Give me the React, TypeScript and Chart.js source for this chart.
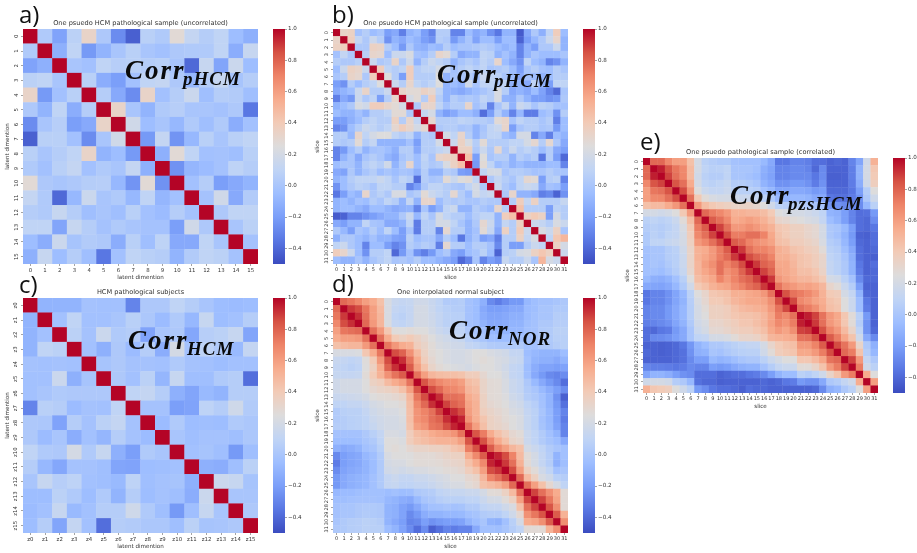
import React, { useEffect, useRef } from "react";
import { Chart, registerables } from "chart.js";
Chart.register(...registerables);

const dims16 = ["0","1","2","3","4","5","6","7","8","9","10","11","12","13","14","15"];
const zLabels = ["z0","z1","z2","z3","z4","z5","z6","z7","z8","z9","z10","z11","z12","z13","z14","z15"];
const slices32 = ["0","1","2","3","4","5","6","7","8","9","10","11","12","13","14","15","16","17","18","19","20","21","22","23","24","25","26","27","28","29","30","31"];
const barTicks = [-0.4,-0.2,0,0.2,0.4,0.6,0.8,1];
const COOLWARM = ["#3b4cc0","#5977e3","#7b9ff9","#9ebeff","#c0d4f5","#dddcdc","#f2cbb7","#f7ac8e","#ee8468","#d65244","#b40426"];

// upper triangles (row i lists columns i+1 .. n-1; the diagonal is 1)
const corrA = [
[.03,-.18,.08,.33,.02,-.27,-.43,.07,.03,.28,.12,.05,.1,-.05,-.12],
[-.12,.1,-.22,-.1,0,.07,0,-.03,.02,.03,.03,.1,-.13,.13],
[0,-.03,.1,.06,.07,.05,.07,0,-.4,.13,-.17,.15,-.05],
[.07,-.13,-.2,-.03,.1,.12,.02,-.08,.05,.13,-.01,.05],
[.05,-.15,-.27,.33,-.03,.05,.15,-.04,.05,.04,-.04],
[.33,0,-.1,.03,.06,0,0,-.02,.02,-.35],
[.18,-.05,0,-.08,.03,-.04,.03,-.13,-.03],
[-.22,.12,-.24,-.08,.07,0,.07,.1],
[-.12,.28,.1,-.03,-.02,-.04,.07],
[-.25,-.09,-.06,-.02,.09,.05],
[-.03,.05,-.2,-.15,-.1],
[-.02,.18,-.15,.04],
[.02,.1,.1],
[0,.08],
[-.02],
];
const corrC = [
[-.1,-.1,-.1,-.02,-.03,-.03,-.3,.02,.02,.1,.05,0,-.05,-.06,-.05],
[-.03,.1,-.03,-.03,0,.07,.01,-.06,.03,-.08,.13,-.05,-.03,.05],
[.08,-.02,.15,.03,.05,-.18,0,.02,-.16,.06,.08,.13,-.17],
[-.03,-.12,.02,-.06,.05,-.13,.2,-.02,.09,.03,-.07,.12],
[-.01,.02,-.02,-.02,-.03,.03,-.02,-.03,-.05,-.03,-.03],
[.02,-.03,.08,-.09,.13,-.04,-.04,.03,.05,-.38],
[.1,.12,.05,-.12,-.17,-.07,-.1,.05,.05],
[-.02,-.02,-.2,-.18,.09,.05,.17,.04],
[-.06,.03,-.05,-.04,-.05,.03,.01],
[0,-.04,-.02,-.02,-.04,.01],
[-.03,-.01,-.04,-.22,-.04],
[-.12,-.13,-.04,.08],
[.15,.13,-.01],
[0,0],
[.02],
];
const corrB = [
[.33,.35,-.02,.05,-.05,0,-.2,-.15,-.32,-.1,-.05,-.2,-.3,.05,.05,-.3,-.3,-.05,-.15,-.1,-.25,-.35,-.1,-.1,-.45,-.15,.02,-.12,.1,.38,-.05],
[.37,.12,.02,.15,.05,-.25,-.1,-.15,-.05,-.1,-.2,-.25,.05,.02,-.22,-.1,0,-.18,-.05,-.05,-.2,-.05,-.05,-.42,-.2,-.08,.02,.15,.32,-.1],
[.02,.02,.35,.33,.05,-.05,-.22,.02,-.1,-.12,-.05,-.08,.05,-.05,0,0,.02,.05,.02,-.05,-.1,-.05,-.3,-.1,-.2,.02,.02,.15,-.1],
[.07,.32,.3,-.05,.15,.15,.22,-.02,-.05,.05,.32,.28,.05,-.15,-.1,-.1,.1,.08,-.1,-.02,-.1,-.3,-.1,0,-.05,-.05,-.05,0],
[.15,.02,.05,.33,.02,.18,-.1,.05,.15,.1,.05,-.1,0,.05,0,.1,.05,.32,-.05,-.15,-.25,.1,-.05,-.1,-.3,-.25,-.1],
[.38,.1,.05,.1,.38,.05,.1,.1,.2,.12,-.02,.05,.1,.05,.1,0,.02,.05,-.05,-.2,0,.05,-.02,-.05,.05,0],
[.25,.05,-.2,.38,.05,.05,.05,.25,-.1,0,0,.05,-.05,.15,.1,.08,0,-.05,-.15,-.02,-.05,-.1,-.05,.05,.05],
[.15,.05,.32,.1,.05,.1,.25,-.1,-.05,-.1,.18,0,.1,.1,.02,.1,-.1,-.1,-.15,.1,-.1,-.2,.1,.1],
[.32,.28,.28,.35,.3,.1,-.1,-.12,-.15,-.1,-.05,0,.05,.22,.05,-.15,-.1,-.15,-.05,-.18,-.3,-.4,0],
[.2,.28,.05,.38,.05,-.1,.05,0,.03,0,.1,.05,.22,-.1,-.12,.02,-.1,-.2,-.2,-.25,-.22,.02],
[.02,.32,.32,.1,-.02,.05,.05,.32,-.02,.05,-.3,0,.12,-.1,.15,.1,0,.08,.05,-.02,-.02],
[.12,.2,-.1,-.2,-.15,-.05,-.05,-.12,-.38,-.2,.05,-.1,-.3,-.08,-.33,-.33,-.05,0,-.25,.05],
[.3,.05,.05,.05,.1,.08,.05,.05,.02,.28,.32,0,.1,.05,.05,0,.05,-.32,-.05],
[.02,.05,.05,0,.02,-.1,0,.1,.15,.32,-.2,0,.05,.05,0,.02,-.22,-.05],
[.2,.1,.32,.05,-.1,.02,.1,.1,-.05,-.1,.2,.2,-.3,-.15,-.32,-.05,-.1],
[.15,.35,.22,.05,.28,.05,.05,.05,.1,.1,.2,.3,.05,.3,.02,-.15],
[.35,.35,.02,.15,.02,.3,.02,.15,.05,.1,.05,-.05,.05,-.15,-.2],
[.45,-.2,.25,0,.05,.05,-.1,.05,0,.05,-.35,.05,-.2,-.4],
[-.22,.28,.1,-.05,0,-.1,-.05,-.1,-.1,-.1,-.05,-.05,-.3],
[.1,.2,.2,0,.05,.05,.02,-.02,0,.05,0,0],
[.02,.12,.05,0,.1,.3,.28,-.2,.05,.08,-.3],
[.15,.02,-.05,.1,.15,.12,-.15,-.02,-.05,-.2],
[.02,.32,-.1,-.1,-.15,-.32,-.28,-.42,-.25],
[.05,.38,.12,.35,.05,.05,.05,.13],
[.45,.05,.05,.05,-.2,.08,.05],
[.35,.4,.35,-.2,.2,.05],
[.15,.12,.05,.22,.15],
[.22,.15,.35,0],
[.1,.42,.5],
[.35,.2],
[.15],
];
const corrD = [
[.78,.74,.68,.6,.55,.45,.22,.14,.12,.13,.18,.18,.14,.1,.04,.04,.05,-.02,-.05,-.12,-.28,-.33,-.27,-.22,-.22,-.08,-.04,-.02,-.02,0,.02],
[.9,.86,.74,.6,.48,.22,.12,.1,.12,.2,.2,.15,.1,.07,.05,.05,-.02,-.05,-.15,-.2,-.2,-.18,-.15,-.15,-.06,-.04,0,0,.03,.03],
[.92,.76,.6,.5,.22,.1,.08,.12,.2,.2,.16,.12,.08,.07,.07,-.02,-.05,-.13,-.17,-.17,-.15,-.12,-.12,-.06,-.03,0,0,.05,.05],
[.78,.62,.5,.23,.12,.1,.13,.2,.2,.17,.12,.08,.08,.08,-.02,-.04,-.1,-.15,-.15,-.13,-.1,-.1,-.04,-.02,.02,.02,.06,.06],
[.76,.62,.42,.26,.25,.27,.25,.25,.2,.15,.12,.1,.1,.02,0,-.03,-.08,-.1,-.1,-.08,-.08,-.03,-.02,.03,.04,.08,.08],
[.76,.55,.4,.36,.4,.35,.3,.25,.2,.17,.15,.13,.07,.03,0,-.04,-.05,-.05,-.03,-.03,-.03,-.02,.03,.03,.07,.07],
[.74,.63,.55,.52,.38,.33,.27,.22,.2,.18,.17,.12,.1,.07,.04,.03,.03,.03,.03,-.03,-.03,.02,.02,.05,.07],
[.86,.8,.65,.48,.35,.28,.25,.22,.2,.2,.22,.25,.25,.22,.2,.18,.12,.12,-.05,-.08,-.1,-.1,-.1,-.05],
[.92,.75,.55,.38,.3,.25,.22,.2,.2,.22,.25,.27,.25,.22,.2,.15,.13,-.03,-.1,-.12,-.12,-.15,-.1],
[.82,.6,.45,.33,.28,.25,.23,.22,.2,.23,.25,.25,.22,.18,.12,.1,-.05,-.13,-.18,-.18,-.2,-.18],
[.75,.6,.5,.47,.46,.46,.44,.38,.38,.3,.25,.25,.2,.12,.1,-.04,-.15,-.22,-.28,-.3,-.27],
[.84,.74,.68,.64,.64,.6,.47,.44,.33,.28,.27,.22,.15,.12,.02,-.07,-.15,-.22,-.28,-.38],
[.86,.78,.7,.68,.64,.5,.47,.33,.28,.27,.22,.15,.12,.04,0,-.07,-.13,-.2,-.27],
[.92,.76,.76,.74,.55,.5,.35,.28,.27,.24,.17,.14,.05,.02,-.03,-.1,-.25,-.43],
[.88,.8,.76,.58,.52,.35,.3,.28,.25,.2,.17,.1,.06,-.02,-.1,-.22,-.37],
[.92,.86,.6,.52,.37,.33,.3,.27,.22,.2,.12,.08,0,-.08,-.2,-.3],
[.94,.64,.53,.43,.35,.32,.28,.25,.22,.13,.08,-.02,-.08,-.2,-.33],
[.75,.6,.46,.35,.33,.3,.25,.22,.13,.08,-.01,-.07,-.18,-.3],
[.84,.72,.55,.45,.38,.3,.27,.15,.1,.04,-.03,-.1,-.3],
[.85,.68,.55,.45,.33,.3,.15,.1,.04,-.01,-.05,-.15],
[.82,.68,.6,.5,.45,.2,.15,.1,.04,0,-.03],
[.94,.86,.7,.48,.27,.2,.12,.05,-.1,-.03],
[.9,.76,.52,.28,.2,.12,.05,-.12,-.04],
[.86,.6,.35,.27,.17,.1,-.03,0],
[.78,.48,.36,.22,.17,.07,.05],
[.76,.6,.45,.3,.2,.1],
[.88,.76,.65,.55,.28],
[.88,.74,.58,.28],
[.84,.66,.28],
[.82,.52],
[.66],
];
const corrE = [
[.78,.78,.68,.6,.6,.45,.2,.08,.05,.03,.03,-.02,-.03,-.03,-.03,-.07,-.15,-.35,-.35,-.3,-.3,-.32,-.38,-.38,-.42,-.4,-.42,-.3,-.17,.18,.52],
[.95,.84,.74,.68,.48,.2,.1,.07,.08,.1,0,0,0,-.03,-.12,-.17,-.3,-.3,-.28,-.28,-.3,-.4,-.28,-.42,-.42,-.42,-.32,-.1,.2,.42],
[.88,.76,.69,.48,.18,.08,.05,.05,.1,0,0,-.02,-.05,-.13,-.18,-.3,-.3,-.28,-.28,-.28,-.35,-.27,-.43,-.43,-.42,-.32,-.1,.2,.4],
[.84,.76,.55,.2,.1,.08,.1,.13,.05,.05,.03,0,-.1,-.15,-.25,-.25,-.22,-.22,-.25,-.33,-.25,-.42,-.42,-.42,-.33,-.13,.18,.37],
[.86,.63,.25,.15,.12,.12,.15,.08,.07,.07,.05,-.03,-.08,-.17,-.17,-.15,-.15,-.17,-.22,-.2,-.4,-.4,-.4,-.35,-.2,.05,.25],
[.76,.41,.27,.22,.2,.2,.17,.15,.15,.13,.07,.03,-.08,-.1,-.08,-.08,-.1,-.15,-.15,-.35,-.37,-.37,-.33,-.25,.02,.17],
[.62,.47,.41,.38,.36,.33,.33,.33,.31,.25,.18,.08,.06,.05,.05,.03,0,0,-.23,-.25,-.28,-.28,-.27,-.08,.08],
[.78,.72,.68,.62,.52,.52,.5,.5,.47,.4,.25,.22,.2,.2,.18,.15,.1,-.1,-.12,-.2,-.3,-.38,-.37,-.22],
[.82,.76,.68,.55,.57,.6,.57,.52,.45,.32,.3,.27,.25,.22,.2,.12,-.05,-.1,-.2,-.3,-.38,-.4,-.27],
[.88,.76,.62,.62,.66,.62,.57,.52,.42,.4,.36,.36,.32,.29,.2,.02,0,-.07,-.2,-.38,-.4,-.35],
[.86,.72,.72,.76,.76,.7,.56,.44,.4,.36,.36,.32,.29,.2,.02,-.02,-.1,-.22,-.42,-.43,-.38],
[.82,.78,.7,.65,.62,.58,.46,.44,.38,.38,.35,.32,.22,.05,.02,-.08,-.2,-.4,-.42,-.38],
[.9,.76,.7,.7,.65,.53,.5,.44,.42,.38,.36,.27,.08,.05,-.04,-.15,-.38,-.42,-.4],
[.86,.8,.76,.7,.53,.53,.48,.44,.42,.38,.32,.1,.07,0,-.12,-.38,-.42,-.43],
[.9,.8,.76,.56,.56,.5,.44,.42,.38,.32,.12,.08,.02,-.1,-.35,-.42,-.38],
[.88,.8,.58,.56,.52,.46,.46,.42,.34,.12,.08,.02,-.1,-.33,-.42,-.4],
[.9,.63,.58,.54,.5,.5,.46,.4,.2,.18,.08,-.02,-.28,-.4,-.4],
[.75,.66,.62,.58,.59,.56,.5,.32,.27,.15,.05,-.2,-.42,-.42],
[.85,.75,.72,.68,.62,.52,.4,.38,.2,.12,-.1,-.4,-.42],
[.87,.68,.64,.58,.54,.44,.41,.25,.15,-.05,-.35,-.42],
[.76,.72,.66,.56,.46,.43,.25,.15,-.05,-.33,-.42],
[.95,.88,.75,.62,.56,.42,.27,.08,-.22,-.42],
[.9,.76,.62,.56,.42,.27,.05,-.25,-.42],
[.85,.7,.62,.48,.33,.1,-.25,-.4],
[.82,.72,.57,.44,.17,-.15,-.28],
[.86,.75,.62,.33,.02,-.12],
[.78,.72,.44,.05,-.08],
[.88,.62,.12,.02],
[.72,.18,.08],
[.55,.25],
[.6],
];

const SIDE = 235, LEFT = 23, TOP = 14, BOTTOM = 16, RIGHT = 8, CB_W = 12, CB_GAP = 15, CB_LABEL = 22;
const INK = "#333";
const FONT = "'DejaVu Sans'";

function hexRgb(h: string) {
  return [1, 3, 5].map((i) => parseInt(h.slice(i, i + 2), 16));
}
function cellColor(v: number) {
  const t = Math.min(1, Math.max(0, (v + 0.5) / 1.5)) * (COOLWARM.length - 1);
  const i = Math.min(COOLWARM.length - 2, Math.floor(t));
  const a = hexRgb(COOLWARM[i]), b = hexRgb(COOLWARM[i + 1]);
  const c = a.map((x, k) => Math.round(x + (b[k] - x) * (t - i)));
  return `rgb(${c[0]},${c[1]},${c[2]})`;
}
function cellsOf(upper: number[][], labels: string[]) {
  const pts: { x: string; y: string; v: number }[] = [];
  labels.forEach((ly, r) =>
    labels.forEach((lx, c) => {
      const v = r === c ? 1 : r < c ? upper[r][c - r - 1] : upper[c][r - c - 1];
      pts.push({ x: lx, y: ly, v: v ?? 0 });
    })
  );
  return pts;
}

const panels = [
  { key: "a", x: 23, y: 29, m: corrA, labels: dims16, title: "One psuedo HCM pathological sample (uncorrelated)", xt: "latent dimention", yt: "latent dimention" },
  { key: "b", x: 333, y: 29, m: corrB, labels: slices32, title: "One psuedo HCM pathological sample (uncorrelated)", xt: "slice", yt: "slice" },
  { key: "c", x: 23, y: 298, m: corrC, labels: zLabels, title: "HCM pathological subjects", xt: "latent dimention", yt: "latent dimention" },
  { key: "d", x: 333, y: 298, m: corrD, labels: slices32, title: "One interpolated normal subject", xt: "slice", yt: "slice" },
  { key: "e", x: 643, y: 158, m: corrE, labels: slices32, title: "One psuedo pathological sample (correlated)", xt: "slice", yt: "slice" },
];

const letters = [
  { t: "a)", x: 19, y: 23 },
  { t: "b)", x: 332, y: 23 },
  { t: "c)", x: 19, y: 293 },
  { t: "d)", x: 332, y: 292 },
  { t: "e)", x: 640, y: 150 },
];
const formulas = [
  { sub: "pHCM", x: 125, y: 79, sx: 183, sy: 85 },
  { sub: "pHCM", x: 437, y: 83, sx: 494, sy: 87 },
  { sub: "HCM", x: 128, y: 349, sx: 187, sy: 355 },
  { sub: "NOR", x: 449, y: 339, sx: 508, sy: 345 },
  { sub: "pzsHCM", x: 730, y: 204, sx: 788, sy: 210 },
];

function heatmap(cv: HTMLCanvasElement, p: (typeof panels)[number]) {
  const n = p.labels.length;
  const pts = cellsOf(p.m, p.labels);
  const tick = { font: { family: FONT, size: n > 16 ? 5 : 5.4 }, color: INK, autoSkip: false, padding: 1 };
  const grid = { drawOnChartArea: false, drawTicks: true, tickLength: 2, color: "#666", lineWidth: 0.6 };
  return new Chart(cv, {
    type: "scatter",
    data: {
      datasets: [
        {
          data: pts as any,
          pointStyle: "rect",
          pointRadius: (SIDE / n + 0.4) / Math.SQRT2,
          pointBorderWidth: 0,
          pointHoverRadius: (SIDE / n + 0.4) / Math.SQRT2,
          pointBackgroundColor: pts.map((d) => cellColor(d.v)),
          clip: 0,
        } as any,
      ],
    },
    options: {
      responsive: false,
      animation: false,
      events: [],
      layout: { autoPadding: false, padding: { right: RIGHT } },
      plugins: {
        legend: { display: false },
        tooltip: { enabled: false },
        title: {
          display: true,
          text: p.title,
          fullSize: false,
          font: { family: FONT, size: 6.6, weight: "normal", lineHeight: 1 },
          color: INK,
          padding: { top: 4.7, bottom: 2.7 },
        },
      },
      scales: {
        x: {
          type: "category",
          labels: p.labels,
          offset: true,
          grid,
          border: { display: false },
          ticks: { ...tick, maxRotation: 0, minRotation: 0 },
          title: { display: true, text: p.xt, font: { family: FONT, size: 5.6, lineHeight: 1 }, color: INK, padding: 0 },
          afterFit: (s: any) => { s.height = BOTTOM; },
        },
        y: {
          type: "category",
          labels: p.labels,
          offset: true,
          grid,
          border: { display: false },
          ticks: { ...tick, minRotation: 90, maxRotation: 90, crossAlign: "center" },
          title: { display: true, text: p.yt, font: { family: FONT, size: 5.6, lineHeight: 1 }, color: INK, padding: { top: 5, bottom: 0 } },
          afterFit: (s: any) => { s.width = LEFT; },
        },
      } as any,
    },
  });
}

function colorbar(cv: HTMLCanvasElement) {
  return new Chart(cv, {
    type: "bar",
    data: {
      labels: [""],
      datasets: [
        {
          data: [[-0.5, 1]] as any,
          barPercentage: 1,
          categoryPercentage: 1,
          backgroundColor: (ctx: any) => {
            const area = ctx.chart.chartArea;
            if (!area) return COOLWARM[5];
            const g = ctx.chart.ctx.createLinearGradient(0, area.bottom, 0, area.top);
            COOLWARM.forEach((c, i) => g.addColorStop(i / (COOLWARM.length - 1), c));
            return g;
          },
        },
      ],
    },
    options: {
      responsive: false,
      animation: false,
      events: [],
      layout: { autoPadding: false, padding: { top: 6, bottom: 6 } },
      plugins: { legend: { display: false }, tooltip: { enabled: false } },
      scales: {
        x: { display: false },
        y: {
          position: "right",
          min: -0.5,
          max: 1,
          border: { display: false },
          grid: { drawOnChartArea: false, drawTicks: true, tickLength: 2, color: "#666", lineWidth: 0.6 },
          afterBuildTicks: (s: any) => { s.ticks = barTicks.map((value) => ({ value })); },
          afterFit: (s: any) => { s.width = CB_LABEL; },
          ticks: {
            autoSkip: false,
            padding: 1,
            font: { family: FONT, size: 5.6 },
            color: INK,
            callback: (v: any) => (v < 0 ? "\u2212" + Math.abs(v).toFixed(1) : Number(v).toFixed(1)),
          },
        },
      } as any,
    },
  });
}

export default function App() {
  const maps = useRef<(HTMLCanvasElement | null)[]>([]);
  const bars = useRef<(HTMLCanvasElement | null)[]>([]);
  useEffect(() => {
    const charts = panels.flatMap((p, i) => [heatmap(maps.current[i]!, p), colorbar(bars.current[i]!)]);
    return () => charts.forEach((c) => c.destroy());
  }, []);
  return (
    <div style={{ position: "fixed", left: 0, top: 0, width: 917, height: 553, overflow: "hidden", background: "#fff" }}>
      <div style={{ position: "absolute", inset: 0, filter: "blur(0.5px)" }}>
        {panels.map((p, i) => (
          <React.Fragment key={p.key}>
            <canvas
              ref={(el) => { maps.current[i] = el; }}
              width={LEFT + SIDE + RIGHT}
              height={TOP + SIDE + BOTTOM}
              style={{ position: "absolute", left: p.x - LEFT, top: p.y - TOP, width: LEFT + SIDE + RIGHT, height: TOP + SIDE + BOTTOM }}
            />
            <canvas
              ref={(el) => { bars.current[i] = el; }}
              width={CB_W + CB_LABEL}
              height={SIDE + 12}
              style={{ position: "absolute", left: p.x + SIDE + CB_GAP, top: p.y - 6, width: CB_W + CB_LABEL, height: SIDE + 12 }}
            />
          </React.Fragment>
        ))}
      </div>
      <svg width={917} height={553} style={{ position: "absolute", left: 0, top: 0, filter: "blur(0.3px)" }}>
        {letters.map((l) => (
          <text key={l.t} x={l.x} y={l.y} fontFamily="'Open Sans'" fontSize={24} fill="#111">{l.t}</text>
        ))}
        {formulas.map((f) => (
          <g key={f.x} fontFamily="'Liberation Serif'" fontWeight="bold" fontStyle="italic" fill="#0a0a0a">
            <text x={f.x} y={f.y} fontSize={27} letterSpacing={2}>Corr</text>
            <text x={f.sx} y={f.sy} fontSize={19} letterSpacing={1}>{f.sub}</text>
          </g>
        ))}
      </svg>
    </div>
  );
}
